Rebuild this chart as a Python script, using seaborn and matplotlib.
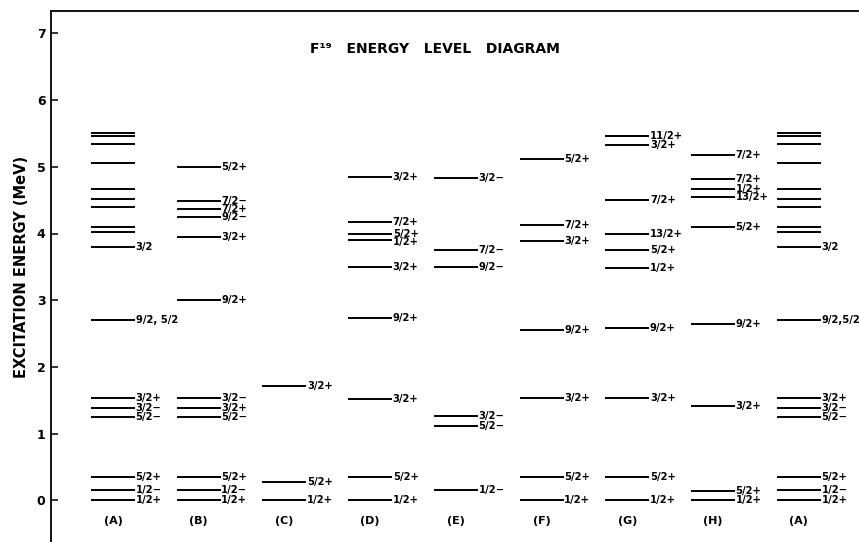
import matplotlib
matplotlib.use("Agg")
import matplotlib.pyplot as plt
import seaborn as sns
import pandas as pd

# Level schemes for F19, one per source (A)-(H); (A) is repeated at the right.
column_names = ["(A)", "(B)", "(C)", "(D)", "(E)", "(F)", "(G)", "(H)", "(A)"]

a_energy = [5.50, 5.46, 5.34, 5.05, 4.67, 4.51, 4.39, 4.09, 4.02, 3.80,
            2.71, 1.54, 1.39, 1.25, 0.35, 0.16, 0.0]
a_labels = ["", "", "", "", "", "", "", "", "", "3/2",
            "9/2, 5/2", "3/2+", "3/2−", "5/2−", "5/2+", "1/2−", "1/2+"]
a_labels_right = ["", "", "", "", "", "", "", "", "", "3/2",
                  "9/2,5/2", "3/2+", "3/2−", "5/2−", "5/2+", "1/2−", "1/2+"]

b_energy = [5.00, 4.49, 4.37, 4.25, 3.95, 3.00, 1.54, 1.39, 1.25, 0.35, 0.16, 0.0]
b_labels = ["5/2+", "7/2−", "7/2+", "9/2−", "3/2+", "9/2+",
            "3/2−", "3/2+", "5/2−", "5/2+", "1/2−", "1/2+"]

c_energy = [1.71, 0.27, 0.0]
c_labels = ["3/2+", "5/2+", "1/2+"]

d_energy = [4.84, 4.17, 3.99, 3.90, 3.50, 2.73, 1.52, 0.35, 0.0]
d_labels = ["3/2+", "7/2+", "5/2+", "1/2+", "3/2+", "9/2+", "3/2+", "5/2+", "1/2+"]

e_energy = [4.83, 3.75, 3.50, 1.27, 1.12, 0.15]
e_labels = ["3/2−", "7/2−", "9/2−", "3/2−", "5/2−", "1/2−"]

f_energy = [5.12, 4.12, 3.89, 2.56, 1.53, 0.35, 0.0]
f_labels = ["5/2+", "7/2+", "3/2+", "9/2+", "3/2+", "5/2+", "1/2+"]

g_energy = [5.46, 5.33, 4.50, 3.99, 3.76, 3.49, 2.59, 1.53, 0.35, 0.0]
g_labels = ["11/2+", "3/2+", "7/2+", "13/2+", "5/2+", "1/2+",
            "9/2+", "3/2+", "5/2+", "1/2+"]

h_energy = [5.17, 4.81, 4.67, 4.54, 4.10, 2.64, 1.41, 0.14, 0.0]
h_labels = ["7/2+", "7/2+", "1/2+", "13/2+", "5/2+", "9/2+", "3/2+", "5/2+", "1/2+"]

y_ticks = [0, 1, 2, 3, 4, 5, 6, 7]

schemes = [
    (a_energy, a_labels), (b_energy, b_labels), (c_energy, c_labels),
    (d_energy, d_labels), (e_energy, e_labels), (f_energy, f_labels),
    (g_energy, g_labels), (h_energy, h_labels), (a_energy, a_labels_right),
]

frames = []
for idx, (energy, labels) in enumerate(schemes):
    frames.append(pd.DataFrame({"column": idx, "energy": energy, "label": labels}))
levels = pd.concat(frames, ignore_index=True)

sns.set_theme(style="white")
plt.rcParams["font.family"] = ["DejaVu Sans"]

fig = plt.figure(figsize=(8.59, 5.42), dpi=100)
ax = fig.add_axes([51 / 859, 0.0, 1 - 51 / 859, 1 - 11 / 542])

px_per_col = 85.74
px_per_mev = 66.7
line_px = 44
sns.scatterplot(data=levels, x="column", y="energy", marker="_",
                s=(line_px * 0.72) ** 2, linewidth=1.4, color="black",
                legend=False, ax=ax, zorder=3)

# spin/parity labels to the right of each line; crowded labels are
# nudged downward so neighbours in one column don't collide
offset = (line_px / 2 + 0.5) / px_per_col
min_gap = 8.2 / px_per_mev
for idx, group in levels.groupby("column"):
    last_y = None
    for _, row in group.sort_values("energy", ascending=False).iterrows():
        if not row["label"]:
            continue
        y = row["energy"]
        if last_y is not None and last_y - y < min_gap:
            y = last_y - min_gap
        last_y = y
        ax.text(idx + offset, y, row["label"], ha="left", va="center",
                fontsize=7.2, fontweight="bold", color="black")

# source labels under each column
for idx, name in enumerate(column_names):
    ax.text(idx, -0.31, name, ha="center", va="center", fontsize=8,
            fontweight="bold", color="black")

ax.text(2.30, 6.77, "F¹⁹   ENERGY   LEVEL   DIAGRAM", ha="left", va="center",
        fontsize=10, fontweight="bold", color="black")

ax.set_xlim(-62 / px_per_col, (859 - 113) / px_per_col)
ax.set_ylim((500.3 - 542) / px_per_mev, (500.3 - 11) / px_per_mev)
ax.set_yticks(y_ticks)
ax.set_yticklabels([str(t) for t in y_ticks], fontsize=9, fontweight="bold")
ax.set_xticks([])
ax.set_xlabel("")
ax.set_ylabel("")
ax.tick_params(axis="y", direction="in", length=5, width=1.1, pad=4,
               left=True, colors="black")

for side in ["right", "bottom"]:
    ax.spines[side].set_visible(False)
for side in ["left", "top"]:
    ax.spines[side].set_visible(True)
    ax.spines[side].set_color("black")
    ax.spines[side].set_linewidth(1.3)

fig.text(22 / 859, 1 - 267 / 542, "EXCITATION ENERGY (MeV)", rotation=90,
         ha="center", va="center", fontsize=10.5, fontweight="bold",
         color="black")

fig.patch.set_facecolor("white")
ax.set_facecolor("white")
fig.savefig("out.png", dpi=100, facecolor="white")
